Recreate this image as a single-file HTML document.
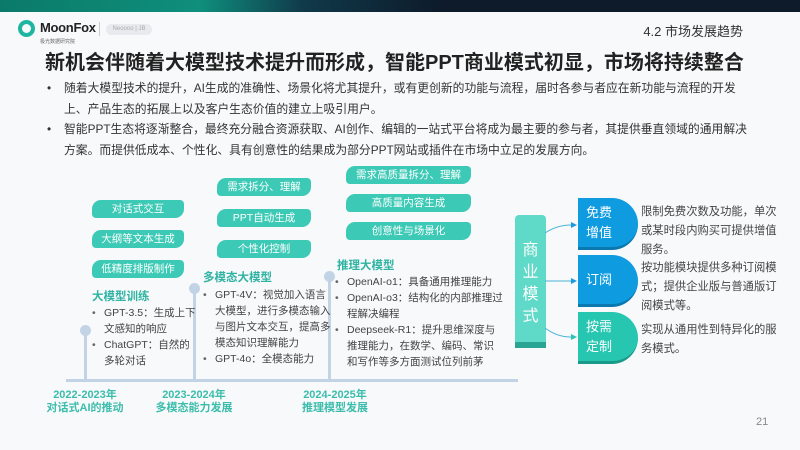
<!DOCTYPE html>
<html><head><meta charset="utf-8"><style>
*{margin:0;padding:0;box-sizing:border-box}
body{width:800px;height:450px;background:#f8f9fb;position:relative;overflow:hidden;font-family:"Liberation Sans","Noto Sans CJK SC",sans-serif;color:#333}
.a{position:absolute;white-space:nowrap}
.rib{position:absolute;height:18px;background:#3cc9b5;color:#fff;font-size:10.5px;text-align:center;line-height:18px;border-radius:9px 4px 9px 4px}
.h{position:absolute;color:#2fb3a2;font-size:11.5px;font-weight:bold}
.l{position:absolute;font-size:10.5px;line-height:16px;color:#444}
.l div{position:relative;padding-left:12px}
.l div:before{content:"•";position:absolute;left:0;color:#666}
.yr{position:absolute;color:#3cbdab;font-size:11px;font-weight:bold;text-align:center;line-height:13px;width:100px}
.post{position:absolute;width:3px;background:#c3d3e6}
.dot{position:absolute;width:11px;height:11px;border-radius:50%;background:#c3d3e6}
.bx{position:absolute;left:578px;width:60px;height:52px;border-radius:0 26px 26px 0;color:#fff;font-size:13px;display:flex;align-items:center;padding-left:8px;line-height:20px}
.bt{position:absolute;left:641px;font-size:11.3px;line-height:19px;color:#444;width:142px}
</style></head><body>
<div style="position:absolute;left:0;top:0;width:800px;height:12px;background:linear-gradient(90deg,#0b7a6a 0%,#0f8f7c 25%,#10394a 38%,#0d1b2a 55%,#0d1b2a 100%)"></div>
<div class="a" style="left:18px;top:20px;width:17px;height:17px;border-radius:50%;border:4px solid #1fb6a1"></div>
<div class="a" style="left:40px;top:20px;font-size:13px;font-weight:bold;color:#222;letter-spacing:-0.3px">MoonFox</div>
<div class="a" style="left:40px;top:38px;font-size:5px;color:#666">极光数据研究院</div>
<div class="a" style="left:99px;top:22px;width:1px;height:14px;background:#ccc"></div>
<div class="a" style="left:106px;top:24px;width:46px;height:11px;border-radius:6px;background:#e8eaee;font-size:6px;color:#aaa;text-align:center;line-height:11px">Neoooo | JB</div>
<div class="a" style="right:57px;top:21px;font-size:13px;color:#333">4.2 市场发展趋势</div>
<div class="a" style="left:45px;top:46px;font-size:20px;font-weight:bold;color:#222">新机会伴随着大模型技术提升而形成，智能PPT商业模式初显，市场将持续整合</div>
<div class="a" style="left:47px;top:78px;font-size:11.8px;line-height:20.5px;color:#333;white-space:normal;width:702px">
<div style="position:relative;padding-left:17px"><span style="position:absolute;left:0">•</span>随着大模型技术的提升，AI生成的准确性、场景化将尤其提升，或有更创新的功能与流程，届时各参与者应在新功能与流程的开发上、产品生态的拓展上以及客户生态价值的建立上吸引用户。</div>
<div style="position:relative;padding-left:17px"><span style="position:absolute;left:0">•</span>智能PPT生态将逐渐整合，最终充分融合资源获取、AI创作、编辑的一站式平台将成为最主要的参与者，其提供垂直领域的通用解决方案。而提供低成本、个性化、具有创意性的结果成为部分PPT网站或插件在市场中立足的发展方向。</div>
</div>
<div class="a" style="left:66px;top:379px;width:452px;height:3px;background:#c3d3e6"></div>
<div class="post" style="left:84px;top:330px;height:50px"></div><div class="dot" style="left:80px;top:325px"></div>
<div class="post" style="left:193px;top:288px;height:92px"></div><div class="dot" style="left:189px;top:283px"></div>
<div class="post" style="left:328px;top:276px;height:104px"></div><div class="dot" style="left:324px;top:271px"></div>
<div class="yr" style="left:35px;top:389px">2022-2023年<br>对话式AI的推动</div>
<div class="yr" style="left:144px;top:389px">2023-2024年<br>多模态能力发展</div>
<div class="yr" style="left:285px;top:389px">2024-2025年<br>推理模型发展</div>
<div class="rib" style="left:92px;top:200px;width:92px">对话式交互</div>
<div class="rib" style="left:92px;top:230px;width:92px">大纲等文本生成</div>
<div class="rib" style="left:92px;top:260px;width:92px">低精度排版制作</div>
<div class="rib" style="left:217px;top:178px;width:94px">需求拆分、理解</div>
<div class="rib" style="left:217px;top:209px;width:94px">PPT自动生成</div>
<div class="rib" style="left:217px;top:240px;width:94px">个性化控制</div>
<div class="rib" style="left:346px;top:166px;width:125px">需求高质量拆分、理解</div>
<div class="rib" style="left:346px;top:194px;width:125px">高质量内容生成</div>
<div class="rib" style="left:346px;top:222px;width:125px">创意性与场景化</div>
<div class="h" style="left:92px;top:288px">大模型训练</div>
<div class="l" style="left:92px;top:305px;width:106px"><div>GPT-3.5：生成上下文感知的响应</div><div>ChatGPT：自然的多轮对话</div></div>
<div class="h" style="left:203px;top:269px">多模态大模型</div>
<div class="l" style="left:203px;top:287px;width:132px"><div>GPT-4V：视觉加入语言大模型，进行多模态输入与图片文本交互，提高多模态知识理解能力</div><div>GPT-4o：全模态能力</div></div>
<div class="h" style="left:337px;top:257px">推理大模型</div>
<div class="l" style="left:335px;top:274px;width:168px"><div>OpenAI-o1：具备通用推理能力</div><div>OpenAI-o3：结构化的内部推理过程解决编程</div><div>Deepseek-R1：提升思维深度与推理能力，在数学、编码、常识和写作等多方面测试位列前茅</div></div>
<div class="a" style="left:515px;top:215px;width:31px;height:133px;background:#5fd9c8;border-radius:4px 4px 0 0;border-bottom:6px solid #2aa593;color:#fff;font-size:16px;line-height:22px;text-align:center;white-space:normal;padding-top:25px">商<br>业<br>模<br>式</div>
<svg class="a" style="left:545px;top:215px" width="35" height="130"><g fill="none" stroke="#4ab3d6" stroke-width="1"><path d="M0 18 Q12 10 26 10"/><path d="M0 66 L26 66"/><path d="M0 113 Q12 122 26 122"/></g><path d="M26 7 L32 10 L26 13Z M26 63 L32 66 L26 69Z" fill="#1a9be0"/><path d="M26 119 L32 122 L26 125Z" fill="#2cc6b0"/></svg>
<div class="bx" style="top:198px;background:#0e9be0;border-bottom:3px solid #0b78b0">免费<br>增值</div>
<div class="bx" style="top:255px;background:#0e9be0;border-bottom:3px solid #0b78b0">订阅</div>
<div class="bx" style="top:312px;background:#26c6b0;border-bottom:3px solid #1a9a88">按需<br>定制</div>
<div class="bt" style="top:203px">限制免费次数及功能，单次或某时段内购买可提供增值服务。</div>
<div class="bt" style="top:259px">按功能模块提供多种订阅模式；提供企业版与普通版订阅模式等。</div>
<div class="bt" style="top:321px">实现从通用性到特异化的服务模式。</div>
<div class="a" style="left:756px;top:416px;font-size:11px;color:#888">21</div>
</body></html>
